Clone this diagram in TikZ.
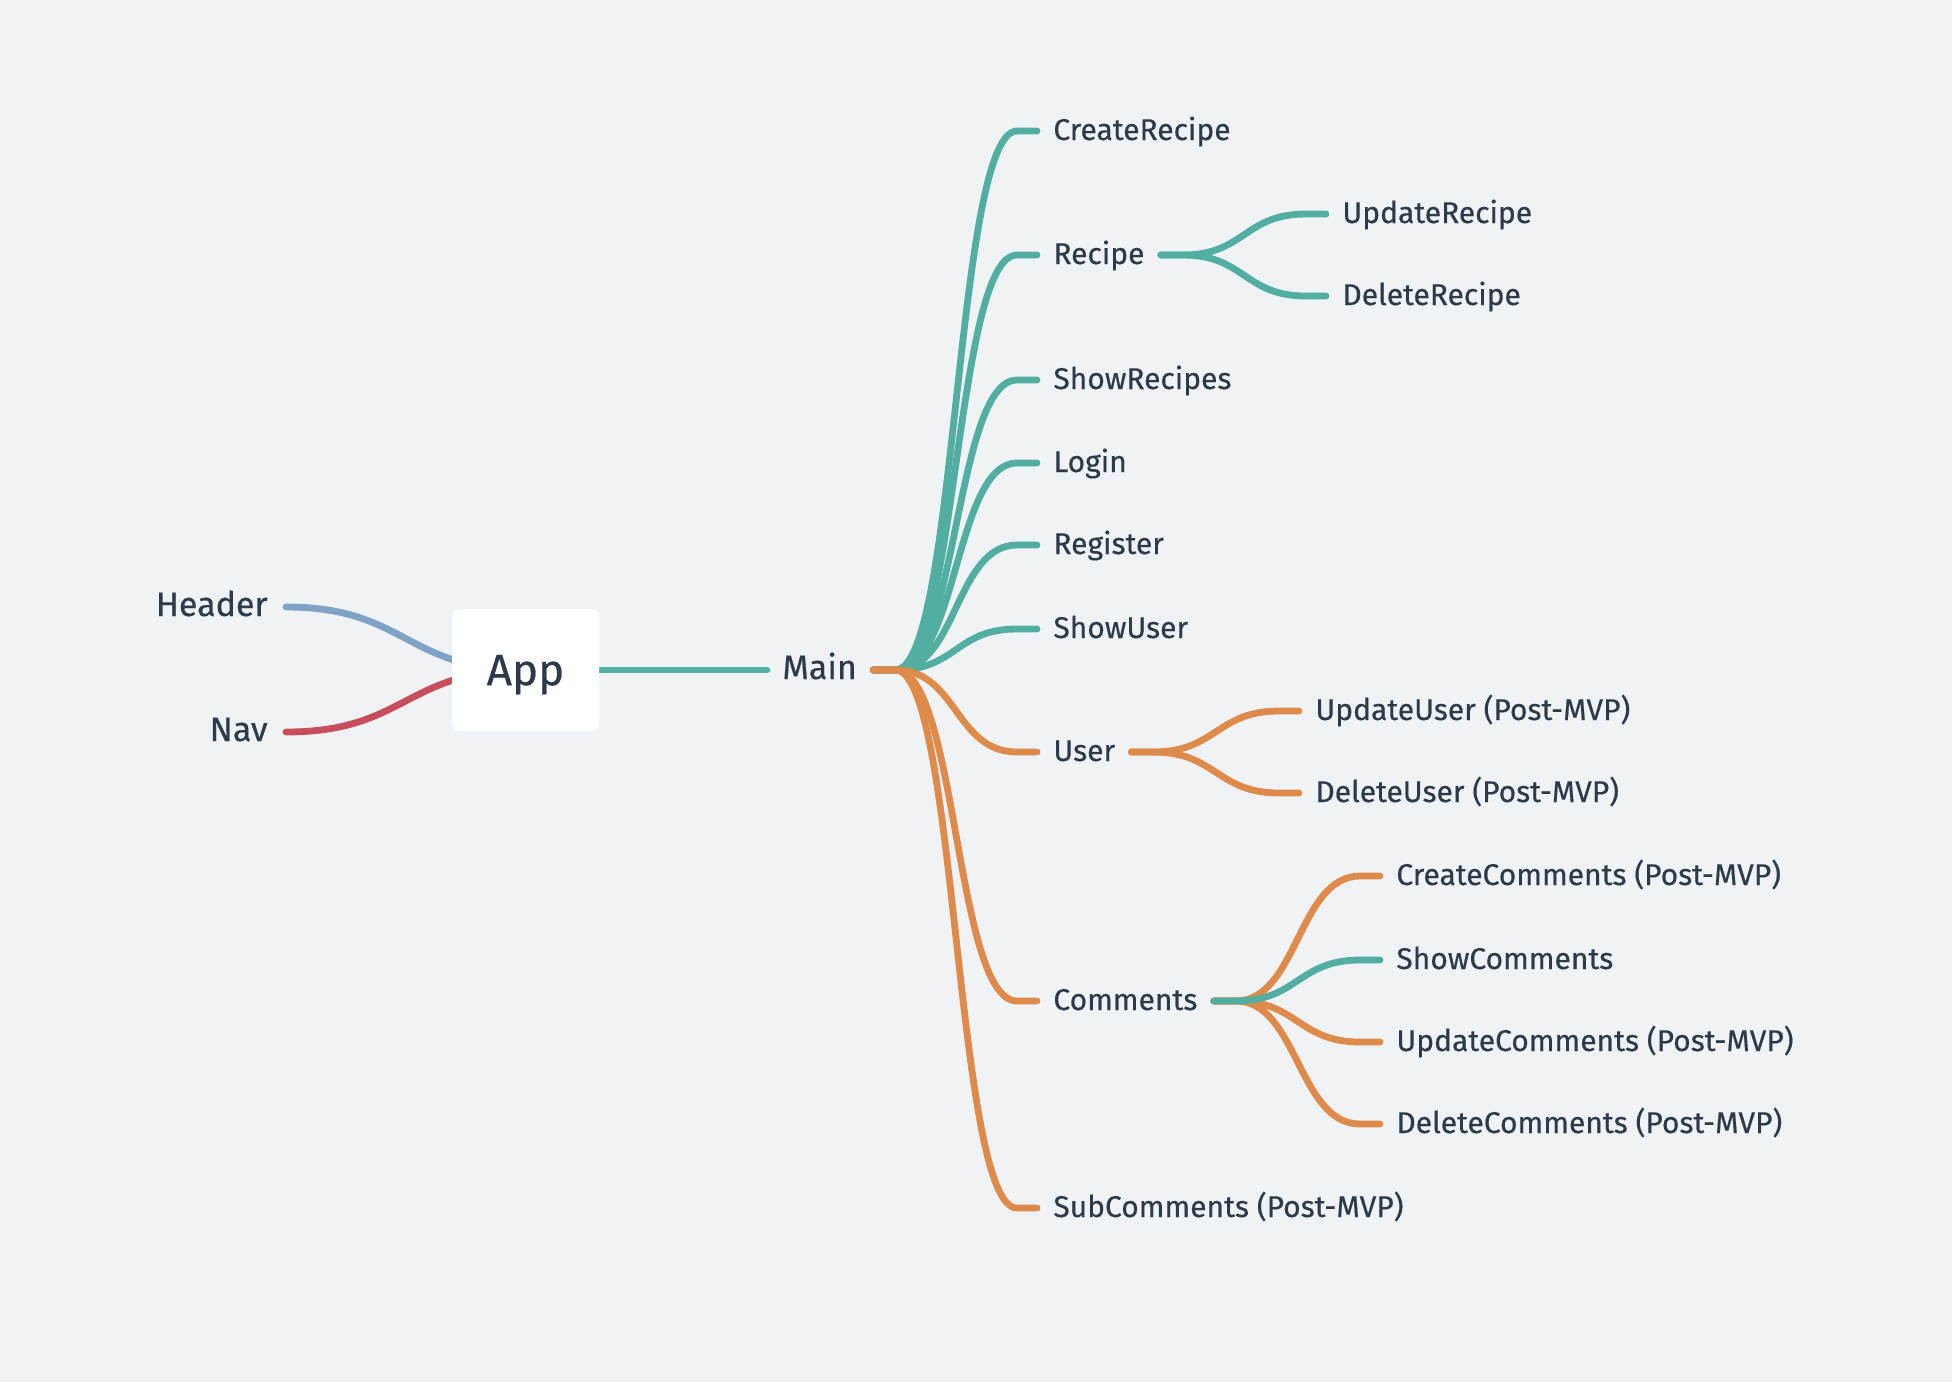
\documentclass[tikz,border=0pt]{standalone}
\usepackage{fontspec}
\setmainfont{Fira Sans}
\newfontfamily\lblfont{Fira Sans}[FakeBold=0.45]
\definecolor{bgc}{HTML}{F0F3F6}
\definecolor{mmteal}{HTML}{52AEA0}
\definecolor{mmorange}{HTML}{DD8A4B}
\definecolor{mmblue}{HTML}{7FA3C5}
\definecolor{mmred}{HTML}{C74F5D}
\definecolor{ink}{HTML}{2D3A4A}
\pgfdeclarelayer{backlayer}
\pgfdeclarelayer{linelayer}
\pgfsetlayers{backlayer,linelayer,main}
\tikzset{
  lbl/.style={font=\lblfont\fontsize{15}{17}\selectfont, text=ink, inner sep=0pt,
    text height=0.9em, text depth=0pt, anchor=west},
  rootlbl/.style={lbl, font=\lblfont\fontsize{17}{19}\selectfont},
  conn/.style={line width=3.4pt, line cap=round},
  appbox/.style={fill=white, rounded corners=4pt, minimum width=73.5pt,
    minimum height=61pt, inner sep=0pt, text=ink, text depth=0pt,
    font=\lblfont\fontsize{22}{26}\selectfont},
}
\newcommand\mmbranch[3]{%
  \draw[conn,#1] ([xshift=8pt]#2.east) -- ++(22,0)
    .. controls +(62,0) and +(-62,0) .. ([xshift=-18pt]#3.west)
    -- ([xshift=-8pt]#3.west);}
\begin{document}
\begin{tikzpicture}[x=0.5pt,y=-0.5pt]
\begin{pgfonlayer}{backlayer}
\fill[bgc] (0,0) rectangle (1952,1382);
\end{pgfonlayer}
\useasboundingbox (0,0) rectangle (1952,1382);

% nodes
\node[appbox] (app) at (525.5,670) {App};
\node[rootlbl, anchor=east] (header) at (268,607) {Header};
\node[rootlbl, anchor=east] (nav) at (268,732) {Nav};
\node[rootlbl] (main) at (782,670) {Main};

\node[lbl] (createrecipe) at (1053,131) {CreateRecipe};
\node[lbl] (recipe) at (1053,255) {Recipe};
\node[lbl] (showrecipes) at (1053,380) {ShowRecipes};
\node[lbl] (login) at (1053,463) {Login};
\node[lbl] (register) at (1053,545) {Register};
\node[lbl] (showuser) at (1053,629) {ShowUser};
\node[lbl] (user) at (1053,752) {User};
\node[lbl] (comments) at (1053,1001) {Comments};
\node[lbl] (subcomments) at (1053,1208) {SubComments (Post-MVP)};

\node[lbl] (updaterecipe) at (1342,214) {UpdateRecipe};
\node[lbl] (deleterecipe) at (1342,296) {DeleteRecipe};
\node[lbl] (updateuser) at (1315,711) {UpdateUser (Post-MVP)};
\node[lbl] (deleteuser) at (1315,793) {DeleteUser (Post-MVP)};
\node[lbl] (createcomments) at (1396,876) {CreateComments (Post-MVP)};
\node[lbl] (showcomments) at (1396,960) {ShowComments};
\node[lbl] (updatecomments) at (1396,1042) {UpdateComments (Post-MVP)};
\node[lbl] (deletecomments) at (1396,1124) {DeleteComments (Post-MVP)};

\begin{pgfonlayer}{linelayer}
\draw[conn,mmblue] ([xshift=9pt]header.east) .. controls +(120,0) and +(-120,0) .. (app.center);
\draw[conn,mmred] ([xshift=9pt]nav.east) .. controls +(120,0) and +(-120,0) .. (app.center);
\draw[conn,mmteal] (app.east) -- ([xshift=-7.5pt]main.west);

\mmbranch{mmteal}{main}{createrecipe}
\mmbranch{mmteal}{main}{recipe}
\mmbranch{mmteal}{main}{showrecipes}
\mmbranch{mmteal}{main}{login}
\mmbranch{mmteal}{main}{register}
\mmbranch{mmteal}{main}{showuser}
\mmbranch{mmorange}{main}{user}
\mmbranch{mmorange}{main}{comments}
\mmbranch{mmorange}{main}{subcomments}

\mmbranch{mmteal}{recipe}{updaterecipe}
\mmbranch{mmteal}{recipe}{deleterecipe}
\mmbranch{mmorange}{user}{updateuser}
\mmbranch{mmorange}{user}{deleteuser}
\mmbranch{mmorange}{comments}{createcomments}
\mmbranch{mmorange}{comments}{updatecomments}
\mmbranch{mmorange}{comments}{deletecomments}
\mmbranch{mmteal}{comments}{showcomments}
\end{pgfonlayer}
\end{tikzpicture}
\end{document}
